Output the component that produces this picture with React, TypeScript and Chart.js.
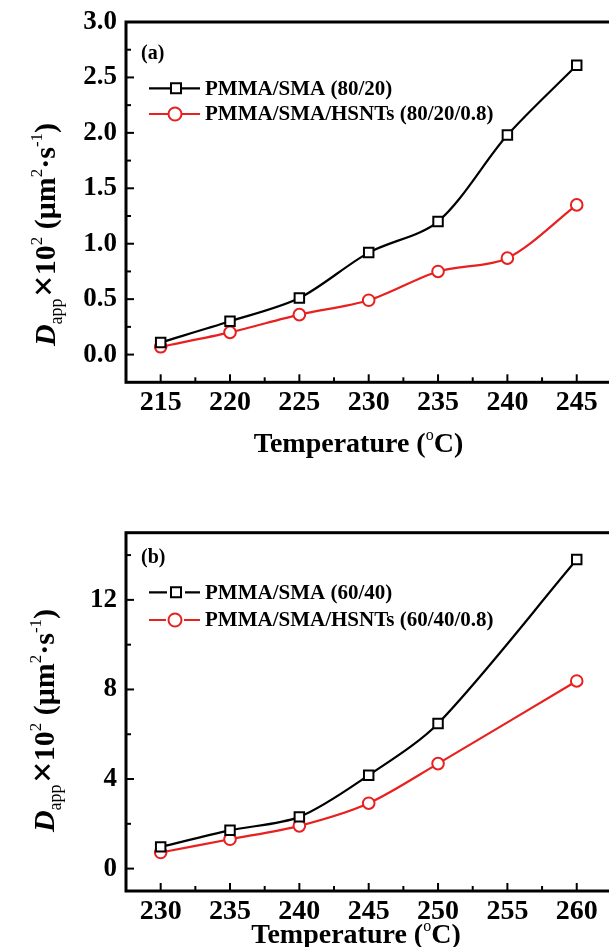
import React, { useEffect, useRef } from 'react';
import { Chart, registerables } from 'chart.js';

Chart.register(...registerables);

// ---------- Data ----------
const tempsA = [215, 220, 225, 230, 235, 240, 245];
const pmmaSmaA = [0.11, 0.30, 0.51, 0.92, 1.20, 1.98, 2.61];
const hsntA = [0.07, 0.20, 0.36, 0.49, 0.75, 0.87, 1.35];
const xTicksA = [215, 220, 225, 230, 235, 240, 245];
const yTicksA = [0, 0.5, 1.0, 1.5, 2.0, 2.5, 3.0];
const legendA = ['PMMA/SMA (80/20)', 'PMMA/SMA/HSNTs (80/20/0.8)'];

const tempsB = [230, 235, 240, 245, 250, 260];
const pmmaSmaB = [0.97, 1.71, 2.31, 4.17, 6.48, 13.8];
const hsntB = [0.72, 1.31, 1.91, 2.92, 4.69, 8.38];
const xTicksB = [230, 235, 240, 245, 250, 255, 260];
const yTicksB = [0, 4, 8, 12];
const legendB = ['PMMA/SMA (60/40)', 'PMMA/SMA/HSNTs (60/40/0.8)'];

const FONT = "'Liberation Serif', 'Times New Roman', serif";
const BLACK = '#000000';
const RED = '#e8201f';

type Run = { t: string; size: number; weight?: string; style?: string; dy?: number };

function fontOf(r: Run) {
  return `${r.style || 'normal'} ${r.weight || 'bold'} ${r.size}px ${FONT}`;
}

function drawRuns(ctx: CanvasRenderingContext2D, runs: Run[], x: number, y: number, align: 'left' | 'center') {
  let total = 0;
  const widths = runs.map((r) => {
    ctx.font = fontOf(r);
    const w = ctx.measureText(r.t).width;
    total += w;
    return w;
  });
  let cx = align === 'center' ? x - total / 2 : x;
  ctx.textAlign = 'left';
  ctx.textBaseline = 'alphabetic';
  runs.forEach((r, i) => {
    ctx.font = fontOf(r);
    ctx.fillText(r.t, cx, y + (r.dy || 0));
    cx += widths[i];
  });
}

const yTitleRuns: Run[] = [
  { t: 'D', size: 30, weight: 'bold', style: 'italic' },
  { t: 'app', size: 18, weight: 'normal', dy: 7 },
  { t: ' ', size: 6 },
  { t: '×', size: 38, weight: 'bold', dy: 1 },
  { t: '10', size: 30, weight: 'bold' },
  { t: '2', size: 17, weight: 'normal', dy: -13 },
  { t: ' (μm', size: 30, weight: 'bold' },
  { t: '2', size: 17, weight: 'normal', dy: -13 },
  { t: '·s', size: 30, weight: 'bold' },
  { t: '-1', size: 17, weight: 'normal', dy: -13 },
  { t: ')', size: 30, weight: 'bold' },
];

const xTitleRuns: Run[] = [
  { t: 'Temperature (', size: 28, weight: 'bold' },
  { t: 'o', size: 16, weight: 'normal', dy: -12 },
  { t: 'C)', size: 28, weight: 'bold' },
];

type PanelCfg = {
  top: number;
  height: number;
  plotTop: number;
  plotBottom: number;
  temps: number[];
  s1: number[];
  s2: number[];
  xTicks: number[];
  yTicks: number[];
  xMin: number;
  xMax: number;
  yMin: number;
  yMax: number;
  xMajor: number;
  xMinor: number;
  yMajor: number;
  yMinor: number;
  dec: number;
  legend: string[];
  legendY: number[];
  legendGap: boolean;
  label: string;
  labelY: number;
  yTitleCx: number;
  yTitleCy: number;
  xTitleCx: number;
  xTitleY: number;
};

const CANVAS_W = 640;
const LEFT = 126;
const RIGHT = 611.4;

function makeDecor(c: PanelCfg) {
  return {
    id: 'decor',
    afterDraw(chart: any) {
      const { ctx, chartArea: a } = chart;
      const xs = chart.scales.x;
      const ys = chart.scales.y;
      ctx.save();
      ctx.strokeStyle = '#000';
      ctx.lineWidth = 3;
      ctx.strokeRect(a.left, a.top, a.right - a.left, a.bottom - a.top);

      // inward ticks
      ctx.lineWidth = 2;
      const eps = 1e-6;
      const tickLoop = (min: number, max: number, minor: number, major: number, fn: (v: number, isMajor: boolean) => void) => {
        const start = Math.ceil((min - eps) / minor);
        for (let k = start; k * minor <= max + eps; k++) {
          const v = k * minor;
          if (Math.abs(v - min) < eps || Math.abs(v - max) < eps) continue;
          const isMajor = Math.abs(v / major - Math.round(v / major)) < eps;
          fn(v, isMajor);
        }
      };
      tickLoop(c.xMin, c.xMax, c.xMinor, c.xMajor, (v, isMajor) => {
        const px = xs.getPixelForValue(v);
        const len = isMajor ? 8 : 5;
        ctx.beginPath();
        ctx.moveTo(px, a.bottom);
        ctx.lineTo(px, a.bottom - len);
        ctx.stroke();
      });
      tickLoop(c.yMin, c.yMax, c.yMinor, c.yMajor, (v, isMajor) => {
        const py = ys.getPixelForValue(v);
        const len = isMajor ? 8 : 5;
        ctx.beginPath();
        ctx.moveTo(a.left, py);
        ctx.lineTo(a.left + len, py);
        ctx.stroke();
      });

      // panel label
      ctx.fillStyle = '#000';
      ctx.font = `bold 20px ${FONT}`;
      ctx.textAlign = 'left';
      ctx.textBaseline = 'middle';
      ctx.fillText(c.label, 141, c.labelY);

      // legend
      const colors = [BLACK, RED];
      c.legend.forEach((txt, i) => {
        const y = c.legendY[i];
        const mx = i === 0 ? 176 : 175;
        ctx.strokeStyle = colors[i];
        ctx.lineWidth = 2.2;
        ctx.beginPath();
        ctx.moveTo(149, y);
        ctx.lineTo(200, y);
        ctx.stroke();
        ctx.fillStyle = '#fff';
        if (c.legendGap) {
          ctx.fillRect(mx - 9, y - 3, 18, 6);
        }
        ctx.lineWidth = 2;
        ctx.beginPath();
        if (i === 0) {
          ctx.rect(mx - 5, y - 5, 10, 10);
        } else {
          ctx.arc(mx, y, 6.5, 0, Math.PI * 2);
        }
        ctx.fill();
        ctx.stroke();
        ctx.fillStyle = '#000';
        ctx.font = `bold 21px ${FONT}`;
        ctx.textAlign = 'left';
        ctx.textBaseline = 'middle';
        ctx.fillText(txt, 205, y + 1);
      });

      // axis titles
      ctx.fillStyle = '#000';
      drawRuns(ctx, xTitleRuns, c.xTitleCx, c.xTitleY, 'center');
      ctx.save();
      ctx.translate(c.yTitleCx, c.yTitleCy);
      ctx.rotate(-Math.PI / 2);
      drawRuns(ctx, yTitleRuns, 0, 0, 'center');
      ctx.restore();

      ctx.restore();
    },
  };
}

function Panel({ c }: { c: PanelCfg }) {
  const ref = useRef<HTMLCanvasElement>(null);
  useEffect(() => {
    const H = c.height;
    const chart = new Chart(ref.current as HTMLCanvasElement, {
      type: 'line',
      data: {
        datasets: [
          {
            label: c.legend[0],
            data: c.temps.map((x, i) => ({ x, y: c.s1[i] })),
            borderColor: BLACK,
            borderWidth: 2.2,
            pointStyle: 'rect',
            pointRadius: 6.7,
            pointBorderWidth: 2,
            pointBorderColor: BLACK,
            pointBackgroundColor: '#ffffff',
            tension: 0.3,
            fill: false,
          },
          {
            label: c.legend[1],
            data: c.temps.map((x, i) => ({ x, y: c.s2[i] })),
            borderColor: RED,
            borderWidth: 2.2,
            pointStyle: 'circle',
            pointRadius: 5.8,
            pointBorderWidth: 2,
            pointBorderColor: RED,
            pointBackgroundColor: '#ffffff',
            tension: 0.3,
            fill: false,
          },
        ],
      },
      options: {
        animation: false,
        responsive: false,
        maintainAspectRatio: false,
        layout: { padding: { left: 0, top: c.plotTop, right: CANVAS_W - RIGHT, bottom: 0 } },
        plugins: { legend: { display: false }, tooltip: { enabled: false } },
        scales: {
          x: {
            type: 'linear',
            min: c.xMin,
            max: c.xMax,
            afterBuildTicks: (s: any) => {
              s.ticks = c.xTicks.map((v) => ({ value: v }));
            },
            afterFit: (s: any) => {
              s.height = H - c.plotBottom;
              s.paddingLeft = 0;
              s.paddingRight = 0;
            },
            ticks: {
              color: '#000',
              padding: 4,
              maxRotation: 0,
              autoSkip: false,
              font: { family: FONT, size: 28, weight: 'bold' },
              callback: (v: any) => String(v),
            },
            grid: { display: false, drawTicks: false },
            border: { display: false },
          },
          y: {
            type: 'linear',
            min: c.yMin,
            max: c.yMax,
            afterBuildTicks: (s: any) => {
              s.ticks = c.yTicks.map((v) => ({ value: v }));
            },
            afterFit: (s: any) => {
              s.width = LEFT;
              s.paddingTop = 0;
              s.paddingBottom = 0;
            },
            ticks: {
              color: '#000',
              padding: 9,
              autoSkip: false,
              font: { family: FONT, size: 27, weight: 'bold' },
              callback: (v: any) => Number(v).toFixed(c.dec),
            },
            grid: { display: false, drawTicks: false },
            border: { display: false },
          },
        },
      } as any,
      plugins: [makeDecor(c)],
    } as any);
    return () => chart.destroy();
  }, [c]);
  return (
    <canvas
      ref={ref}
      width={CANVAS_W}
      height={c.height}
      style={{ position: 'absolute', left: 0, top: c.top, width: CANVAS_W, height: c.height, display: 'block' }}
    />
  );
}

const panelA: PanelCfg = {
  top: 0,
  height: 480,
  plotTop: 22,
  plotBottom: 382.3,
  temps: tempsA,
  s1: pmmaSmaA,
  s2: hsntA,
  xTicks: xTicksA,
  yTicks: yTicksA,
  xMin: 212.5,
  xMax: 247.5,
  yMin: -0.25,
  yMax: 3.0,
  xMajor: 5,
  xMinor: 2.5,
  yMajor: 0.5,
  yMinor: 0.25,
  dec: 1,
  legend: legendA,
  legendY: [88.3, 114],
  legendGap: false,
  label: '(a)',
  labelY: 53.5,
  yTitleCx: 55,
  yTitleCy: 234.5,
  xTitleCx: 358.5,
  xTitleY: 451.7,
};

const panelB: PanelCfg = {
  top: 480,
  height: 467,
  plotTop: 52.7,
  plotBottom: 411,
  temps: tempsB,
  s1: pmmaSmaB,
  s2: hsntB,
  xTicks: xTicksB,
  yTicks: yTicksB,
  xMin: 227.5,
  xMax: 262.5,
  yMin: -1,
  yMax: 15,
  xMajor: 5,
  xMinor: 2.5,
  yMajor: 4,
  yMinor: 2,
  dec: 0,
  legend: legendB,
  legendY: [112.3, 140],
  legendGap: true,
  label: '(b)',
  labelY: 77.5,
  yTitleCx: 54,
  yTitleCy: 240.5,
  xTitleCx: 356,
  xTitleY: 463,
};

export default function App() {
  return (
    <div
      style={{
        position: 'fixed',
        left: 0,
        top: 0,
        width: 609,
        height: 947,
        overflow: 'hidden',
        background: '#ffffff',
      }}
    >
      <Panel c={panelA} />
      <Panel c={panelB} />
    </div>
  );
}
